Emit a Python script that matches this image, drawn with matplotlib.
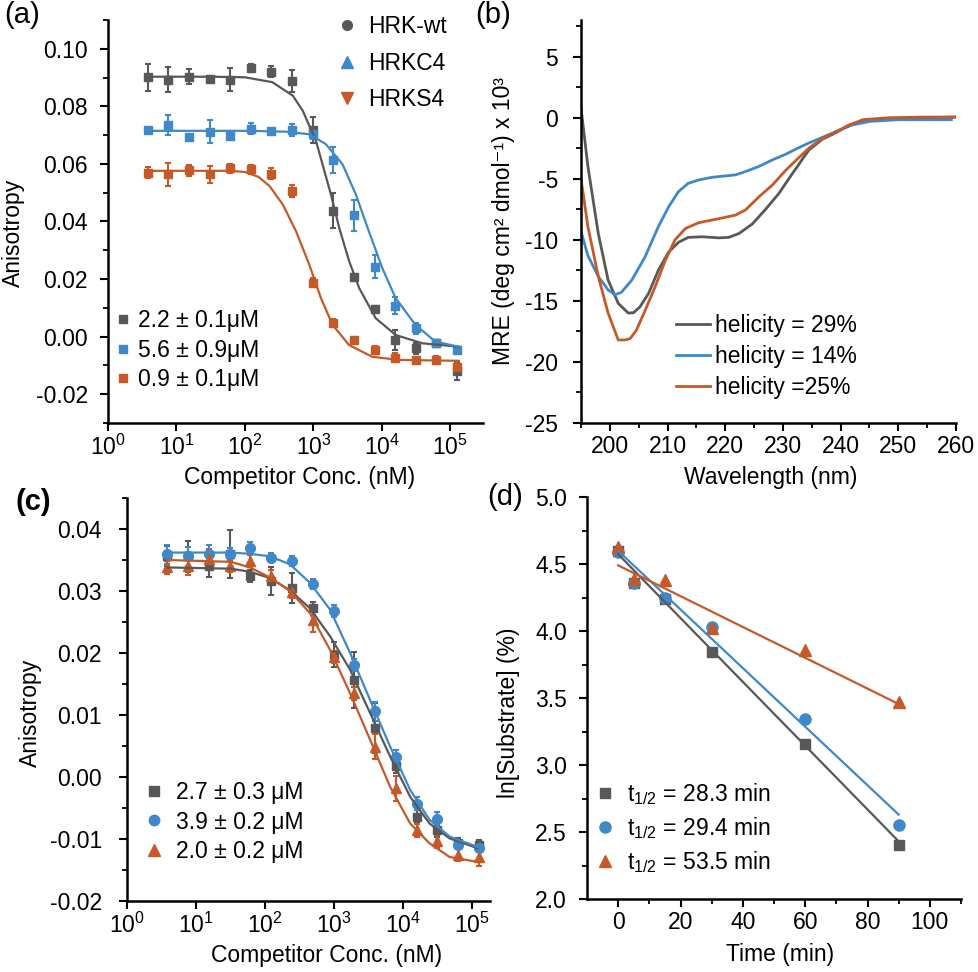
import matplotlib
matplotlib.use('Agg')
import matplotlib.pyplot as plt
from matplotlib.lines import Line2D
from matplotlib.ticker import MultipleLocator, FixedLocator

plt.rcParams['font.family'] = ['Liberation Sans', 'DejaVu Sans']
plt.rcParams['mathtext.fontset'] = 'custom'
plt.rcParams['mathtext.rm'] = 'Liberation Sans'
plt.rcParams['mathtext.it'] = 'Liberation Sans:italic'
plt.rcParams['axes.unicode_minus'] = False

GRAY = '#585858'
BLUE = '#3f88c9'
ORANGE = '#c55a28'
FS = 16.5

# ---------------- (a) FP competition, HRK peptides ----------------
conc = [3.8, 7.6, 15.3, 30.5, 61, 122, 244, 488, 977, 1953, 3906, 7813,
        15625, 31250, 62500, 125000]
a_wt = [0.0901, 0.0893, 0.0903, 0.0895, 0.0893, 0.0933, 0.0921, 0.0887,
        0.0717, 0.0438, 0.0206, 0.0097, -0.0012, -0.0041, -0.0023, -0.0120]
a_wt_err = [0.0047, 0.0044, 0.0026, 0.0010, 0.0040, 0.0015, 0.0020, 0.0038,
            0.0045, 0.0060, 0.0010, 0.0010, 0.0035, 0.0020, 0.0010, 0.0030]
a_c4 = [0.0717, 0.0736, 0.0692, 0.0712, 0.0698, 0.0723, 0.0713, 0.0717,
        0.0703, 0.0613, 0.0421, 0.0242, 0.0108, 0.0029, -0.0023, -0.0047]
a_c4_err = [0.0010, 0.0035, 0.0010, 0.0040, 0.0010, 0.0020, 0.0010, 0.0020,
            0.0015, 0.0045, 0.0055, 0.0040, 0.0030, 0.0020, 0.0010, 0.0010]
a_s4 = [0.0570, 0.0564, 0.0578, 0.0564, 0.0585, 0.0581, 0.0566, 0.0506,
        0.0188, 0.0047, -0.0012, -0.0047, -0.0073, -0.0081, -0.0081, -0.0105]
a_s4_err = [0.0020, 0.0040, 0.0020, 0.0030, 0.0015, 0.0015, 0.0020, 0.0020,
            0.0015, 0.0015, 0.0010, 0.0015, 0.0015, 0.0010, 0.0015, 0.0020]

# fitted curves
a_wt_fit_x = [4, 32, 100, 251, 501, 698, 1091, 1803, 2382, 3327, 4656, 8128,
              15849, 38726, 131826]
a_wt_fit_y = [0.0903, 0.0903, 0.0901, 0.0884, 0.0837, 0.0785, 0.0680, 0.0494,
              0.0378, 0.0262, 0.0169, 0.0064, 0.0006, -0.0023, -0.0035]
a_c4_fit_x = [4, 117, 398, 871, 1514, 2661, 4169, 6457, 10162, 15849, 30903,
              60256, 131826]
a_c4_fit_y = [0.0715, 0.0715, 0.0712, 0.0703, 0.0669, 0.0599, 0.0494, 0.0366,
              0.0238, 0.0134, 0.0041, -0.0017, -0.0035]
a_s4_fit_x = [4, 63, 100, 158, 229, 357, 558, 871, 1288, 1905, 3311, 7244,
              17783, 131826]
a_s4_fit_y = [0.0576, 0.0576, 0.0572, 0.0555, 0.0523, 0.0459, 0.0366, 0.0250,
              0.0134, 0.0041, -0.0029, -0.0070, -0.0081, -0.0084]
a_names = ['HRK-wt', 'HRKC4', 'HRKS4']
a_kd = ['2.2 ± 0.1μM', '5.6 ± 0.9μM', '0.9 ± 0.1μM']

# ---------------- (b) CD spectra ----------------
cd_wt_x = [195, 196.2, 198.0, 199.7, 201.45, 203.2, 204.1, 205.2, 206.7, 208.4,
           210.2, 211.9, 213.6, 216.0, 218.9, 220.6, 222.4, 224.7, 227.0,
           229.3, 231.6, 232.8, 233.5, 234.6, 236.9, 239.3, 241.6, 245.1,
           250.0, 254.0, 260]
cd_wt_y = [0.8, -4.0, -9.5, -13.3, -15.2, -16.0, -15.97, -15.5, -14.4, -12.5,
           -11.0, -10.2, -9.8, -9.75, -9.84, -9.8, -9.48, -8.7, -7.5,
           -6.2, -4.6, -3.8, -3.3, -2.6, -1.75, -1.2, -0.57, -0.16,
           -0.05, 0.0, 0.05]
cd_c4_x = [195, 196.2, 198.0, 199.7, 200.9, 202.0, 203.8, 206.1, 208.4, 210.2,
           211.9, 213.6, 215.4, 217.7, 220.0, 221.8, 223.5, 225.8, 228.2,
           230.5, 232.8, 234.6, 236.9, 239.3, 242.0, 245.1, 250.3, 254.3,
           259.2]
cd_c4_y = [-9.3, -11.3, -13.0, -14.1, -14.5, -14.3, -13.3, -11.4, -8.93, -7.29,
           -6.05, -5.37, -5.1, -4.88, -4.77, -4.68, -4.41, -4.0, -3.45,
           -2.99, -2.44, -2.05, -1.6, -1.12, -0.6, -0.3, -0.16, -0.16,
           -0.16]
cd_s4_x = [195, 196.2, 198.0, 199.7, 201.45, 202.6, 203.5, 204.6, 206.1, 207.8,
           209.6, 211.3, 213.1, 215.4, 217.7, 220.0, 221.8, 223.5, 225.8,
           228.2, 230.5, 232.8, 234.6, 236.9, 239.3, 241.5, 243.9, 248.5,
           254.0, 260]
cd_s4_y = [-5.0, -8.93, -13.0, -16.0, -18.2, -18.2, -18.1, -17.4, -15.8, -13.9,
           -11.7, -10.0, -9.07, -8.6, -8.38, -8.16, -7.97, -7.56, -6.5,
           -5.5, -4.3, -3.25, -2.45, -1.7, -1.12, -0.6, -0.16, 0.0,
           0.05, 0.05]
cd_names = ['helicity = 29%', 'helicity = 14%', 'helicity =25%']

# ---------------- (c) FP competition, second set ----------------
c_sq = [0.0357, 0.0356, 0.0341, 0.0360, 0.0324, 0.0316, 0.0305, 0.0272,
        0.0197, 0.0157, 0.0079, 0.0017, -0.0064, -0.0086, -0.0107, -0.0110]
c_sq_err = [0.0016, 0.0025, 0.0018, 0.0039, 0.0010, 0.0022, 0.0024, 0.0010,
            0.0020, 0.0045, 0.0040, 0.0010, 0.0010, 0.0010, 0.0008, 0.0008]
c_ci = [0.0359, 0.0356, 0.0359, 0.0359, 0.0369, 0.0354, 0.0349, 0.0312,
        0.0268, 0.0181, 0.0106, 0.0033, -0.0043, -0.0067, -0.0110, -0.0115]
c_ci_err = [0.0015, 0.0015, 0.0015, 0.0010, 0.0010, 0.0008, 0.0008, 0.0008,
            0.0010, 0.0010, 0.0015, 0.0010, 0.0010, 0.0010, 0.0005, 0.0005]
c_tr = [0.0338, 0.0341, 0.0352, 0.0340, 0.0348, 0.0324, 0.0299, 0.0254,
        0.0194, 0.0135, 0.0049, -0.0018, -0.0086, -0.0104, -0.0126, -0.0129]
c_tr_err = [0.0010, 0.0015, 0.0015, 0.0010, 0.0010, 0.0010, 0.0010, 0.0020,
            0.0010, 0.0010, 0.0020, 0.0020, 0.0010, 0.0010, 0.0010, 0.0015]
c_fit_x = [3.8, 32, 60, 117, 229, 447, 871, 1698, 3311, 6457, 12589, 23988,
           46774, 120000]
c_sq_fit = [0.0338, 0.0336, 0.0331, 0.0321, 0.0301, 0.0272, 0.0227, 0.0173,
            0.0103, 0.0033, -0.0032, -0.0075, -0.0099, -0.0115]
c_ci_fit = [0.0362, 0.0362, 0.0360, 0.0356, 0.0343, 0.0313, 0.0270, 0.0200,
            0.0124, 0.0049, -0.0021, -0.0069, -0.0096, -0.0113]
c_tr_fit = [0.0350, 0.0347, 0.0338, 0.0322, 0.0300, 0.0264, 0.0205, 0.0135,
            0.0060, -0.0016, -0.0075, -0.0107, -0.0129, -0.0137]
c_kd = ['2.7 ± 0.3 μM', '3.9 ± 0.2 μM', '2.0 ± 0.2 μM']

# ---------------- (d) degradation kinetics ----------------
time = [0, 5, 15, 30, 60, 90]
d_sq = [4.60, 4.36, 4.24, 3.845, 3.16, 2.40]
d_ci = [4.59, 4.355, 4.25, 4.03, 3.34, 2.555]
d_tr = [4.63, 4.39, 4.38, 4.02, 3.86, 3.47]
fit_t = [0, 90]
d_sq_fit = [4.573, 2.43]
d_ci_fit = [4.598, 2.63]
d_tr_fit = [4.49, 3.455]
d_half = ['28.3', '29.4', '53.5']


def style(ax, ypad):
    for s in ['top', 'right']:
        ax.spines[s].set_visible(False)
    for s in ['left', 'bottom']:
        ax.spines[s].set_linewidth(1.8)
    ax.tick_params(which='major', direction='out', length=5.5, width=1.5,
                   labelsize=FS)
    ax.tick_params(which='minor', direction='out', length=3.5, width=1.3)
    ax.tick_params(axis='y', pad=ypad)
    ax.tick_params(axis='x', pad=3)


fig = plt.figure(figsize=(9.79, 9.72), dpi=100)
W, H = 979.0, 972.0


def add_ax(l, r, t, b):
    return fig.add_axes([l / W, 1 - b / H, (r - l) / W, (b - t) / H])


eb_kw = dict(fmt='s', ms=6, capsize=2.5, elinewidth=1.5, capthick=1.5)
cols = [GRAY, BLUE, ORANGE]
leg_kw = dict(loc='center left', frameon=False, fontsize=FS, borderpad=0,
              borderaxespad=0)

# ----- (a)
ax = add_ax(108, 483, 20, 423)
style(ax, 9)
for y, e, c in zip([a_wt, a_c4, a_s4], [a_wt_err, a_c4_err, a_s4_err], cols):
    ax.errorbar(conc, y, yerr=e, color=c, **eb_kw, zorder=2)
for fx, fy, c in zip([a_wt_fit_x, a_c4_fit_x, a_s4_fit_x],
                     [a_wt_fit_y, a_c4_fit_y, a_s4_fit_y], cols):
    ax.plot(fx, fy, color=c, lw=1.6, zorder=3)
ax.set_xscale('log')
ax.set_xlim(1, 3e5)
ax.set_ylim(-0.03, 0.11)
ax.xaxis.set_major_locator(FixedLocator([1, 10, 100, 1e3, 1e4, 1e5]))
ax.yaxis.set_major_locator(FixedLocator([-0.02, 0, 0.02, 0.04, 0.06, 0.08, 0.10]))
ax.yaxis.set_minor_locator(MultipleLocator(0.01))
ax.yaxis.set_major_formatter(plt.FuncFormatter(lambda v, p: '%.2f' % v))
ax.set_ylabel('Anisotropy', fontsize=FS)
ax.yaxis.set_label_coords(-0.221, 0.471)
ax.set_xlabel('Competitor Conc. (nM)', fontsize=FS, va='center')
ax.xaxis.set_label_coords(0.512, -0.134)
h1 = [Line2D([], [], ls='none', marker=m, color=c, ms=ms)
      for m, c, ms in zip(['o', '^', 'v'], cols, [7, 8, 8])]
leg1 = ax.legend(h1, a_names, bbox_to_anchor=(0.613, 0.893), handlelength=0.8,
                 handletextpad=0.52, labelspacing=0.6, **leg_kw)
ax.add_artist(leg1)
h2 = [Line2D([], [], ls='none', marker='s', color=c, ms=6) for c in cols]
ax.legend(h2, a_kd, bbox_to_anchor=(0.015, 0.181), handlelength=0.8,
          handletextpad=0.25, labelspacing=0.3, **leg_kw)

# ----- (b)
ax = add_ax(581, 956, 20, 423)
style(ax, 11)
for x, y, c, n in zip([cd_wt_x, cd_c4_x, cd_s4_x], [cd_wt_y, cd_c4_y, cd_s4_y],
                      cols, cd_names):
    ax.plot(x, y, color=c, lw=2.0, label=n, solid_joinstyle='round')
ax.set_xlim(195, 260)
ax.set_ylim(-25, 8)
ax.xaxis.set_major_locator(MultipleLocator(10))
ax.xaxis.set_minor_locator(MultipleLocator(5))
ax.yaxis.set_major_locator(FixedLocator([-25, -20, -15, -10, -5, 0, 5]))
ax.yaxis.set_minor_locator(MultipleLocator(2.5))
ax.set_ylabel('MRE (deg cm² dmol⁻¹) x 10³', fontsize=FS)
ax.yaxis.set_label_coords(-0.176, 0.501)
ax.set_xlabel('Wavelength (nm)', fontsize=FS, va='center')
ax.xaxis.set_label_coords(0.507, -0.134)
ax.legend(bbox_to_anchor=(0.253, 0.166), handlelength=1.48, handletextpad=0.22,
          labelspacing=0.35, **leg_kw)

# ----- (c)
ax = add_ax(127, 490, 498, 901)
style(ax, 12.5)
for y, e, c, m, ms in zip([c_sq, c_ci, c_tr], [c_sq_err, c_ci_err, c_tr_err],
                          cols, ['s', 'o', '^'], [6, 7, 7.5]):
    kw = dict(eb_kw)
    kw.update(fmt=m, ms=ms)
    ax.errorbar(conc, y, yerr=e, color=c, **kw, zorder=2)
for fy, c in zip([c_sq_fit, c_ci_fit, c_tr_fit], cols):
    ax.plot(c_fit_x, fy, color=c, lw=1.6, zorder=3)
ax.set_xscale('log')
ax.set_xlim(1, 1.8e5)
ax.set_ylim(-0.02, 0.045)
ax.xaxis.set_major_locator(FixedLocator([1, 10, 100, 1e3, 1e4, 1e5]))
ax.yaxis.set_major_locator(FixedLocator([-0.02, -0.01, 0, 0.01, 0.02, 0.03, 0.04]))
ax.yaxis.set_minor_locator(MultipleLocator(0.005))
ax.yaxis.set_major_formatter(plt.FuncFormatter(lambda v, p: '%.2f' % v))
ax.set_ylabel('Anisotropy', fontsize=FS)
ax.yaxis.set_label_coords(-0.234, 0.466)
ax.set_xlabel('Competitor Conc. (nM)', fontsize=FS, va='center')
ax.xaxis.set_label_coords(0.551, -0.134)
h3 = [Line2D([], [], ls='none', marker=m, color=c, ms=ms)
      for m, c, ms in zip(['s', 'o', '^'], cols, [6.5, 7.5, 8])]
ax.legend(h3, c_kd, bbox_to_anchor=(0.049, 0.196), handlelength=0.8,
          handletextpad=0.56, labelspacing=0.3, **leg_kw)

# ----- (d)
ax = add_ax(587, 961, 497, 899)
style(ax, 9)
for y, c, m, ms in zip([d_sq, d_ci, d_tr], cols, ['s', 'o', '^'], [7, 8, 9]):
    ax.plot(time, y, ls='none', marker=m, color=c, ms=ms, zorder=2)
for fy, c in zip([d_sq_fit, d_ci_fit, d_tr_fit], cols):
    ax.plot(fit_t, fy, color=c, lw=1.6, zorder=3)
ax.set_xlim(-10, 110)
ax.set_ylim(2, 5)
ax.xaxis.set_major_locator(FixedLocator([0, 20, 40, 60, 80, 100]))
ax.xaxis.set_minor_locator(FixedLocator([10, 30, 50, 70, 90, 110]))
ax.yaxis.set_major_locator(MultipleLocator(0.5))
ax.yaxis.set_minor_locator(MultipleLocator(0.25))
ax.yaxis.set_major_formatter(plt.FuncFormatter(lambda v, p: '%.1f' % v))
ax.set_ylabel('ln[Substrate] (%)', fontsize=FS)
ax.yaxis.set_label_coords(-0.179, 0.463)
ax.set_xlabel('Time (min)', fontsize=FS, va='center')
ax.xaxis.set_label_coords(0.516, -0.139)
h4 = [Line2D([], [], ls='none', marker=m, color=c, ms=ms)
      for m, c, ms in zip(['s', 'o', '^'], cols, [7, 8, 9])]
ax.legend(h4, [r't$_{1/2}$ = %s min' % v for v in d_half],
          bbox_to_anchor=(0.0235, 0.177), handlelength=0.8, handletextpad=0.56,
          labelspacing=0.35, **leg_kw)

# panel letters
for txt, x, y, w in [('(a)', 22, 15, 'normal'), ('(b)', 493, 15, 'normal'),
                     ('(c)', 33, 502, 'bold'), ('(d)', 505, 497, 'normal')]:
    fig.text(x / W, 1 - y / H, txt, fontsize=21, weight=w,
             ha='center', va='center')

fig.savefig('out.png', dpi=100)
